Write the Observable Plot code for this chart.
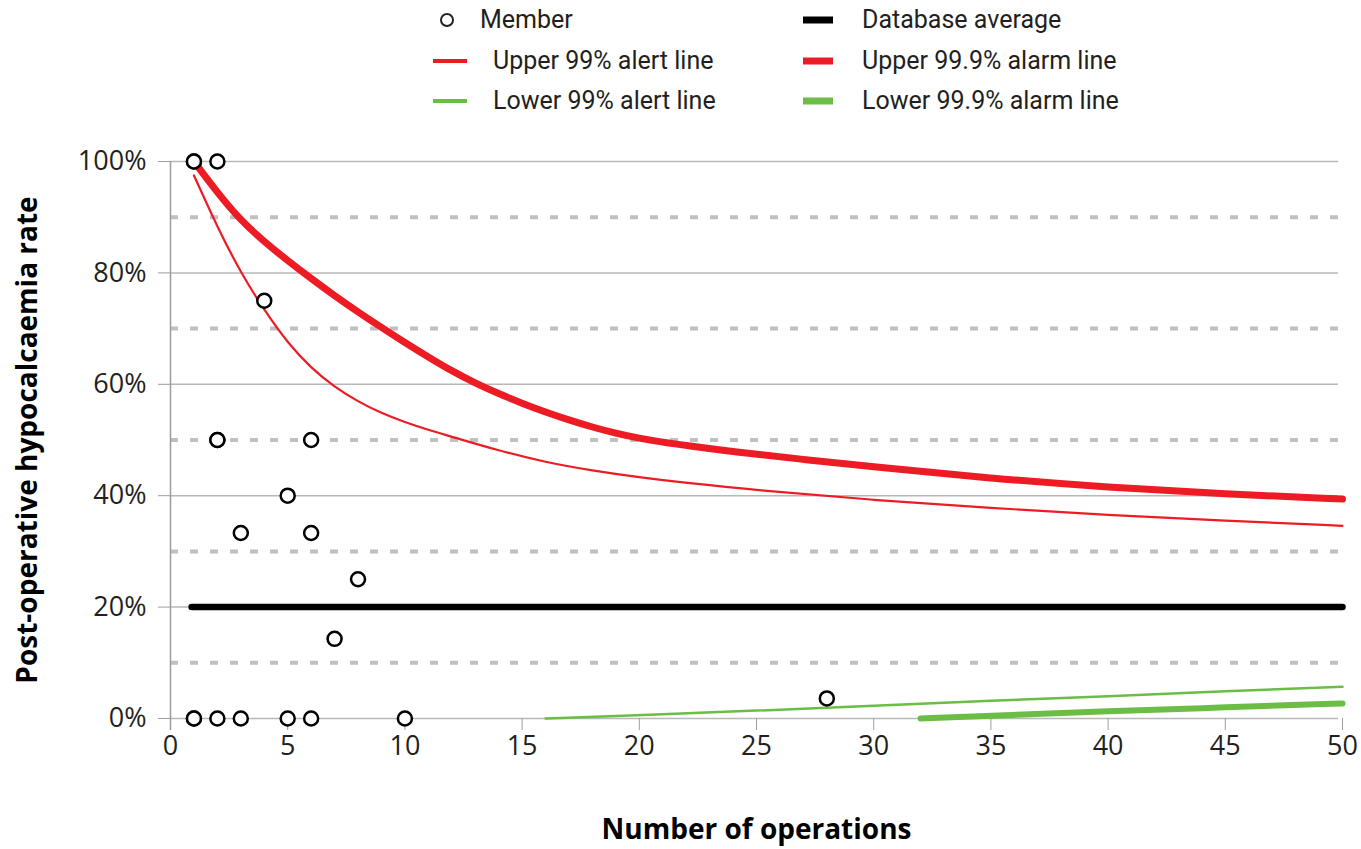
<!DOCTYPE html>
<html>
<head>
<meta charset="utf-8">
<script src="https://cdn.jsdelivr.net/npm/d3@7"></script>
<script src="https://cdn.jsdelivr.net/npm/@observablehq/plot@0.6"></script>
<style>
  body { margin: 0; background: #fff; font-family: Roboto, "Open Sans", sans-serif; }
  #wrap { position: relative; width: 1361px; height: 849px; overflow: hidden; }
  #chart { position: absolute; left: 0; top: 0; }
  #legend { position: absolute; left: 0; top: 0; width: 1361px; height: 130px; }
  .lab { position: absolute; font-size: 25px; color: #231f20; line-height: 25px; white-space: nowrap; }
  .sw { position: absolute; }
</style>
</head>
<body>
<div id="wrap">
  <div id="chart"></div>
  <div id="legend"></div>
</div>
<script>
// ---- data ----
const memberOps  = [1, 1, 2, 4, 2, 2, 6, 5, 3, 6, 8, 7, 28, 1, 1, 2, 3, 5, 6, 10];
const memberRate = [100, 100, 100, 75, 50, 50, 50, 40, 33.3, 33.3, 25, 14.3, 3.6, 0, 0, 0, 0, 0, 0, 0];

const avgOps  = [0.9, 50];
const avgRate = [20, 20];

const upperAlarmOps  = [1, 2, 3, 4, 5, 6, 7, 8, 9, 10, 11, 12, 13, 14, 15, 16, 17, 18, 19, 20, 21, 22, 24, 27, 30, 35, 40, 45, 50];
const upperAlarmRate = [100, 94.4, 89.4, 85.6, 82.2, 79.0, 75.9, 73.0, 70.2, 67.5, 64.9, 62.4, 60.2, 58.3, 56.6, 55.0, 53.6, 52.3, 51.2, 50.3, 49.6, 49.0, 47.9, 46.5, 45.2, 43.1, 41.5, 40.3, 39.4];

const upperAlertOps  = [1, 2, 3, 4, 5, 6, 7, 8, 9, 10, 11, 12, 14, 16, 18, 20, 22, 25, 30, 35, 40, 45, 50];
const upperAlertRate = [97.5, 88.2, 80.0, 73.3, 67.4, 62.9, 59.5, 56.9, 54.8, 53.2, 51.8, 50.6, 48.1, 46.0, 44.5, 43.3, 42.3, 41.0, 39.2, 37.8, 36.5, 35.5, 34.6];

const lowerAlertOps  = [16, 20, 25, 30, 35, 40, 45, 50];
const lowerAlertRate = [0, 0.6, 1.4, 2.3, 3.2, 4.0, 4.9, 5.7];

const lowerAlarmOps  = [32, 35, 40, 45, 50];
const lowerAlarmRate = [0, 0.5, 1.3, 2.0, 2.7];

const xTicks = [0, 5, 10, 15, 20, 25, 30, 35, 40, 45, 50];
const yTicks = [0, 20, 40, 60, 80, 100];
const yMinor = [10, 30, 50, 70, 90];

const xTitle = "Number of operations";
const yTitle = "Post-operative hypocalcaemia rate";

const legendItems = [
  {label: "Member", kind: "dot"},
  {label: "Upper 99% alert line", kind: "line", color: "#ed1c24", w: 4},
  {label: "Lower 99% alert line", kind: "line", color: "#6cbd45", w: 4},
  {label: "Database average", kind: "line", color: "#000000", w: 7},
  {label: "Upper 99.9% alarm line", kind: "line", color: "#ed1c24", w: 7},
  {label: "Lower 99.9% alarm line", kind: "line", color: "#6cbd45", w: 7}
];

const zip = (xs, ys) => xs.map((x, i) => ({x, y: ys[i]}));

const RED = "#ed1c24", GREEN = "#6cbd45";
const TICKFONT = "'Open Sans', Roboto, sans-serif";

const chart = Plot.plot({
  width: 1361,
  height: 849,
  marginTop: 161,
  marginBottom: 131,
  marginLeft: 170,
  marginRight: 19,
  style: {fontFamily: "Roboto, 'Open Sans', sans-serif", color: "#231f20", background: "#fff"},
  x: {domain: [0, 50]},
  y: {domain: [0, 100]},
  marks: [
    Plot.ruleY(yMinor, {stroke: "#c0c0c0", strokeWidth: 4, strokeDasharray: "8,12", insetRight: 4}),
    Plot.ruleY(yTicks, {stroke: "#b8b8b8", strokeWidth: 1.5, insetRight: 4}),
    Plot.ruleX([0], {stroke: "#9d9d9d", strokeWidth: 1.5, insetBottom: -12}),
    Plot.axisY({ticks: yTicks, tickSize: 12, tickPadding: 12, stroke: "#9d9d9d", tickFormat: d => d + "%", fontSize: 27, fontFamily: TICKFONT, label: null}),
    Plot.axisX({ticks: xTicks, tickSize: 12, tickPadding: 5, stroke: "#9d9d9d", fontSize: 27, fontFamily: TICKFONT, label: null}),
    Plot.line(zip(lowerAlertOps, lowerAlertRate), {x: "x", y: "y", stroke: GREEN, strokeWidth: 2.5, curve: "basis"}),
    Plot.line(zip(lowerAlarmOps, lowerAlarmRate), {x: "x", y: "y", stroke: GREEN, strokeWidth: 6, curve: "basis"}),
    Plot.line(zip(avgOps, avgRate), {x: "x", y: "y", stroke: "#000", strokeWidth: 6.5}),
    Plot.line(zip(upperAlertOps, upperAlertRate), {x: "x", y: "y", stroke: RED, strokeWidth: 2.2, curve: "basis"}),
    Plot.line(zip(upperAlarmOps, upperAlarmRate), {x: "x", y: "y", stroke: RED, strokeWidth: 7, curve: "basis"}),
    Plot.dot(zip(memberOps, memberRate), {x: "x", y: "y", r: 7, stroke: "#000", strokeWidth: 2.5, fill: "#fff"}),
    Plot.text([xTitle], {frameAnchor: "bottom", lineAnchor: "middle", textAnchor: "middle", dy: 112, fontSize: 28, fontWeight: "bold", fontFamily: TICKFONT, fill: "#000"}),
    Plot.text([yTitle], {frameAnchor: "left", lineAnchor: "middle", textAnchor: "middle", dx: -142, rotate: -90, fontSize: 28, fontWeight: "bold", fontFamily: TICKFONT, fill: "#000"})
  ]
});
document.getElementById("chart").appendChild(chart);

// ---- legend (HTML, above the plot area) ----
const legend = document.getElementById("legend");
const colX = [[433, 493], [803, 862]];
const rowY = [20, 61, 101];
legendItems.forEach((it, i) => {
  const col = i < 3 ? 0 : 1, row = i % 3;
  const [sx, tx] = colX[col];
  const cy = rowY[row];
  const svgNS = "http://www.w3.org/2000/svg";
  const s = document.createElementNS(svgNS, "svg");
  s.setAttribute("class", "sw");
  s.setAttribute("width", 40); s.setAttribute("height", 20);
  s.style.left = sx + "px"; s.style.top = (cy - 10) + "px";
  if (it.kind === "dot") {
    const c = document.createElementNS(svgNS, "circle");
    c.setAttribute("cx", 14); c.setAttribute("cy", 10); c.setAttribute("r", 6);
    c.setAttribute("fill", "#fff"); c.setAttribute("stroke", "#222"); c.setAttribute("stroke-width", 2);
    s.appendChild(c);
  } else {
    const l = document.createElementNS(svgNS, "line");
    l.setAttribute("x1", 0); l.setAttribute("x2", col === 0 ? 34 : 30);
    l.setAttribute("y1", 10); l.setAttribute("y2", 10);
    l.setAttribute("stroke", it.color); l.setAttribute("stroke-width", it.w);
    s.appendChild(l);
  }
  legend.appendChild(s);
  const d = document.createElement("div");
  d.className = "lab";
  d.textContent = it.label;
  d.style.left = (it.kind === "dot" ? 480 : tx) + "px";
  d.style.top = (cy - 13) + "px";
  legend.appendChild(d);
});
</script>
</body>
</html>
